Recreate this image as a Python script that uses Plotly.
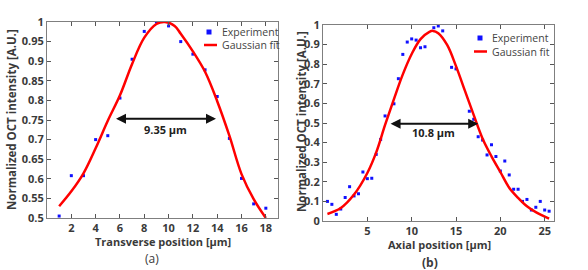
import plotly.graph_objects as go

# ---------------- data: panel (a) transverse ----------------
a_exp_x = [1, 2, 3, 4, 5, 6, 7, 8, 9, 10, 11, 12, 13, 14, 15, 16, 17, 18]
a_exp_y = [0.505, 0.608, 0.608, 0.70, 0.71, 0.806, 0.905, 0.976, 1.0, 0.99,
           0.95, 0.918, 0.878, 0.81, 0.703, 0.601, 0.536, 0.525]
a_fit_x = [1, 2, 3, 4, 5, 6, 7, 8, 9, 9.7, 10.5, 11, 12, 13, 14, 15, 16, 17, 18]
a_fit_y = [0.53, 0.568, 0.614, 0.678, 0.748, 0.813, 0.893, 0.96, 0.995, 1.0,
           0.99, 0.97, 0.925, 0.873, 0.798, 0.71, 0.612, 0.548, 0.50]
a_fwhm_x = [5.55, 13.9]
a_fwhm_y = 0.753
a_fwhm_label = "9.35 μm"
a_xticks = [2, 4, 6, 8, 10, 12, 14, 16, 18]
a_yticks = [0.5, 0.55, 0.6, 0.65, 0.7, 0.75, 0.8, 0.85, 0.9, 0.95, 1.0]
a_yticklabels = ["0.5", "0.55", "0.6", "0.65", "0.7", "0.75", "0.8", "0.85", "0.9", "0.95", "1"]

# ---------------- data: panel (b) axial ----------------
b_exp_x = [0.5, 1.0, 1.5, 2.0, 2.5, 3.0, 3.5, 4.0, 4.5, 5.0, 5.5, 6.0, 6.5, 7.0,
           8.0, 8.5, 9.0, 9.5, 10.0, 10.5, 11.0, 11.5, 12.5, 13.0, 13.5,
           14.5, 15.0, 16.5, 17.0, 17.5, 18.0, 18.5, 19.0, 19.5, 20.0, 20.5,
           21.0, 21.5, 22.0, 22.5, 23.0, 23.5, 24.0, 24.5, 25.0, 25.5]
b_exp_y = [0.10, 0.085, 0.034, 0.061, 0.12, 0.175, 0.128, 0.139, 0.25, 0.216, 0.218,
           0.34, 0.416, 0.536,
           0.598, 0.726, 0.85, 0.913, 0.929, 0.923, 0.884, 0.889, 0.986, 0.995, 0.97,
           0.784, 0.776, 0.56, 0.519, 0.43, 0.413, 0.337, 0.389, 0.329, 0.255, 0.306,
           0.235, 0.162, 0.162, 0.10, 0.11, 0.056, 0.07, 0.10, 0.056, 0.05]
b_fit_x = [0.5, 2, 3.5, 5, 6, 7, 8, 9, 10, 11, 12, 12.4, 13, 14, 15, 16, 17, 18,
           19, 20, 21, 22, 23, 24, 25.5]
b_fit_y = [0.036, 0.066, 0.135, 0.245, 0.35, 0.49, 0.622, 0.748, 0.852, 0.928, 0.965,
           0.97, 0.958, 0.898, 0.79, 0.665, 0.54, 0.42, 0.33, 0.25, 0.17, 0.118,
           0.075, 0.045, 0.012]
b_fwhm_x = [7.45, 17.5]
b_fwhm_y = 0.496
b_fwhm_label = "10.8 μm"
b_xticks = [5, 10, 15, 20, 25]
b_yticks = [0, 0.1, 0.2, 0.3, 0.4, 0.5, 0.6, 0.7, 0.8, 0.9, 1.0]
b_yticklabels = ["0", "0.1", "0.2", "0.3", "0.4", "0.5", "0.6", "0.7", "0.8", "0.9", "1"]

FONT = "Open Sans"
TXT = "#3a3a3a"
FRAME = "#7f7f7f"
BLUE = "#1010ff"
RED = "#ff0000"

fig = go.Figure()
fig.add_trace(go.Scatter(x=a_exp_x, y=a_exp_y, mode="markers",
                         marker=dict(symbol="square", size=3, color=BLUE),
                         xaxis="x", yaxis="y", showlegend=False))
fig.add_trace(go.Scatter(x=a_fit_x, y=a_fit_y, mode="lines", line=dict(color=RED, width=2.5, shape="spline"),
                         xaxis="x", yaxis="y", showlegend=False))
fig.add_trace(go.Scatter(x=b_exp_x, y=b_exp_y, mode="markers",
                         marker=dict(symbol="square", size=3, color=BLUE),
                         xaxis="x2", yaxis="y2", showlegend=False))
fig.add_trace(go.Scatter(x=b_fit_x, y=b_fit_y, mode="lines", line=dict(color=RED, width=2.5, shape="spline"),
                         xaxis="x2", yaxis="y2", showlegend=False))

axis_common = dict(showline=True, linecolor=FRAME, linewidth=1, mirror="ticks",
                   ticks="inside", ticklen=4, tickcolor="#555555", showgrid=False,
                   zeroline=False, automargin=False,
                   tickfont=dict(family=FONT, size=11, color=TXT, weight="bold"))

fig.update_layout(
    width=588, height=270, margin=dict(l=0, r=0, t=0, b=0, pad=0, autoexpand=False),
    paper_bgcolor="white", plot_bgcolor="white",
    xaxis=dict(domain=[47/588, 278/588], range=[0, 19], tickvals=a_xticks, anchor="y", **axis_common),
    yaxis=dict(domain=[(270-218)/270, (270-22)/270], range=[0.5, 1.0], tickvals=a_yticks,
               ticktext=a_yticklabels, anchor="x", **axis_common),
    xaxis2=dict(domain=[323/588, 554/588], range=[0, 26.05], tickvals=b_xticks, anchor="y2", **axis_common),
    yaxis2=dict(domain=[(270-221)/270, (270-25)/270], range=[0, 1.0], tickvals=b_yticks,
                ticktext=b_yticklabels, anchor="x2", **axis_common),
)

ann = []
shapes = []
# FWHM arrows
for xr, yr, xs, yv, lab, ly in [("x", "y", a_fwhm_x, a_fwhm_y, a_fwhm_label, a_fwhm_y - 0.028),
                                ("x2", "y2", b_fwhm_x, b_fwhm_y, b_fwhm_label, b_fwhm_y - 0.045)]:
    ann.append(dict(x=xs[1], y=yv, ax=xs[0], ay=yv, xref=xr, yref=yr, axref=xr, ayref=yr,
                    showarrow=True, arrowhead=2, arrowside="end+start", arrowsize=1,
                    arrowwidth=2, arrowcolor="#111111", text=""))
    ann.append(dict(x=(xs[0] + xs[1]) / 2, y=ly, xref=xr, yref=yr, showarrow=False,
                    xanchor="center", yanchor="middle",
                    text=lab, font=dict(family=FONT, size=11, color="#222222", weight="bold")))

def label(x, y, text, size=11, bold=True, angle=0):
    return dict(x=x/588, y=1 - y/270, xref="paper", yref="paper", showarrow=False,
                xanchor="center", yanchor="middle", textangle=angle, text=text,
                font=dict(family=FONT, size=size, color=TXT, weight="bold" if bold else "normal"))

# axis titles & panel labels
ann += [
    label(11, 120, "Normalized OCT intensity [A.U.]", size=11.5, angle=-90),
    label(301, 122, "Normalized OCT intensity [A.U.]", size=11.5, angle=-90),
    label(163, 241, "Transverse position [μm]"),
    label(152, 258, "(a)", size=12, bold=False),
    label(439, 244, "Axial position [μm]"),
    label(430, 262, "(b)", size=12),
]

# manual legends
for mx, my, lx, ly in [(209, 32, 204, 45), (480, 38, 474, 51.5)]:
    shapes.append(dict(type="rect", xref="paper", yref="paper",
                       x0=(mx - 2.5)/588, x1=(mx + 2.5)/588, y0=1 - (my + 2.5)/270, y1=1 - (my - 2.5)/270,
                       fillcolor=BLUE, line=dict(width=0)))
    shapes.append(dict(type="line", xref="paper", yref="paper",
                       x0=lx/588, x1=(lx + 13)/588, y0=1 - ly/270, y1=1 - ly/270,
                       line=dict(color=RED, width=2.5)))
    for yy, tt in [(my, "Experiment"), (ly, "Gaussian fit")]:
        ann.append(dict(x=(lx + 17)/588, y=1 - yy/270, xref="paper", yref="paper", showarrow=False,
                        xanchor="left", yanchor="middle", text=tt, borderpad=0,
                        font=dict(family=FONT, size=10.5, color="#444444")))

fig.update_layout(annotations=ann, shapes=shapes)
fig.write_html("out.html")
